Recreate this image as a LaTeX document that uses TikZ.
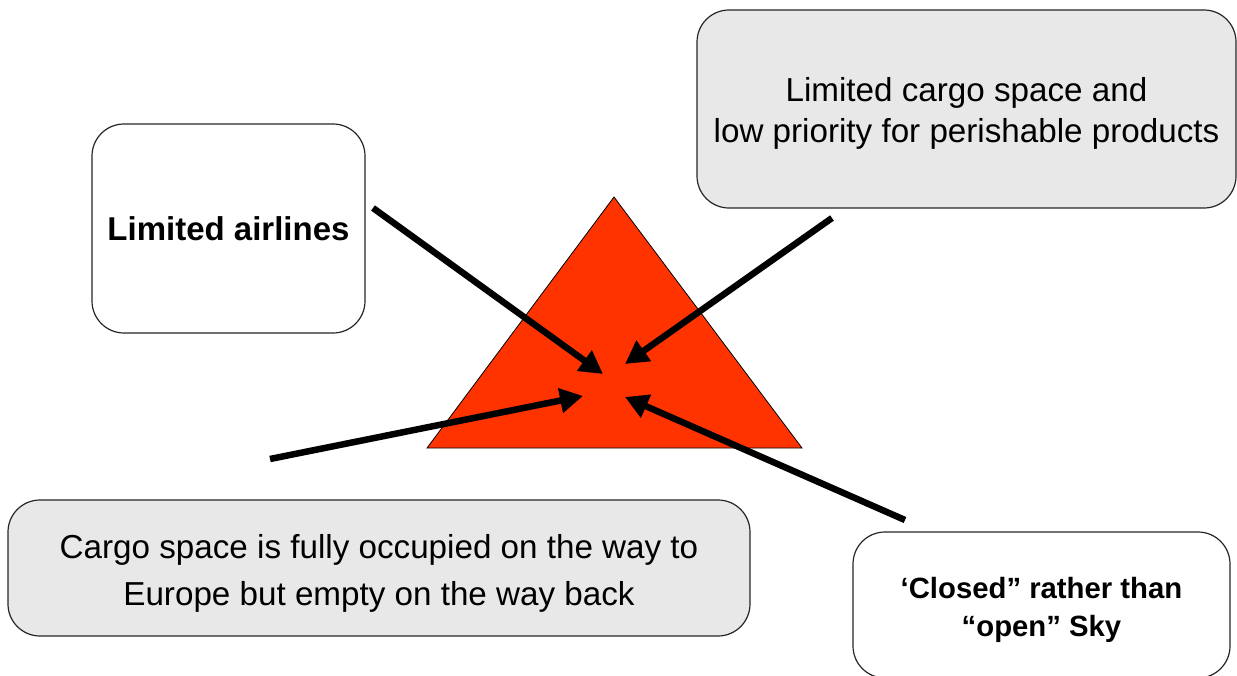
\documentclass[tikz,border=0pt]{standalone}
\usepackage{fontspec}
\setmainfont{Liberation Sans}
\usetikzlibrary{arrows.meta}
\definecolor{boxgray}{HTML}{E8E8E8}
\definecolor{warnred}{HTML}{FF3300}
% invisible strut that lowers the text block inside a box
\newcommand{\topstrut}[1]{\rule{0pt}{#1}}

\begin{document}
\begin{tikzpicture}[x=1pt,y=-1pt,
  card/.style={draw=black!85, line width=1.2pt, rounded corners=32pt,
    align=center, inner sep=0pt},
  push/.style={line width=6.5pt, line cap=butt,
    -{Triangle[length=23pt,width=24pt]}}]
\useasboundingbox (0,0) rectangle (1237,675);
\clip (0,0) rectangle (1237,675);

% central warning triangle
\filldraw[fill=warnred, draw=black, line width=0.8pt]
  (614,197) -- (802,448) -- (427,448) -- cycle;

% surrounding issue boxes
\node[card, fill=white, minimum width=273pt, minimum height=209pt,
  font=\fontsize{33}{40}\selectfont\bfseries] (air)
  at (228.5,228.5) {Limited airlines};
\node[card, fill=boxgray, minimum width=539pt, minimum height=198pt,
  font=\fontsize{33.2}{40.5}\selectfont] (space)
  at (966.5,109) {\topstrut{32.5pt}Limited cargo space and\\ low priority for perishable products};
\node[card, fill=boxgray, minimum width=742pt, minimum height=136pt,
  font=\fontsize{33.2}{47}\selectfont] (way)
  at (379,568) {\topstrut{34pt}Cargo space is fully occupied on the way to\\ Europe but empty on the way back};
\node[card, fill=white, minimum width=377pt, minimum height=146pt,
  font=\fontsize{29.3}{38}\selectfont\bfseries] (sky)
  at (1041.5,605) {\topstrut{31.5pt}‘Closed” rather than\\ “open” Sky};

% arrow end points
\coordinate (s1) at (373,208);  \coordinate (t1) at (603,374);
\coordinate (s2) at (832,218);  \coordinate (t2) at (625,364);
\coordinate (s3) at (270,459);  \coordinate (t3) at (583,396);
\coordinate (s4) at (905,520);  \coordinate (t4) at (625,397);

\draw[push] (s1) -- (t1);
\draw[push] (s2) -- (t2);
\draw[push] (s3) -- (t3);
\draw[push] (s4) -- (t4);
\end{tikzpicture}
\end{document}
